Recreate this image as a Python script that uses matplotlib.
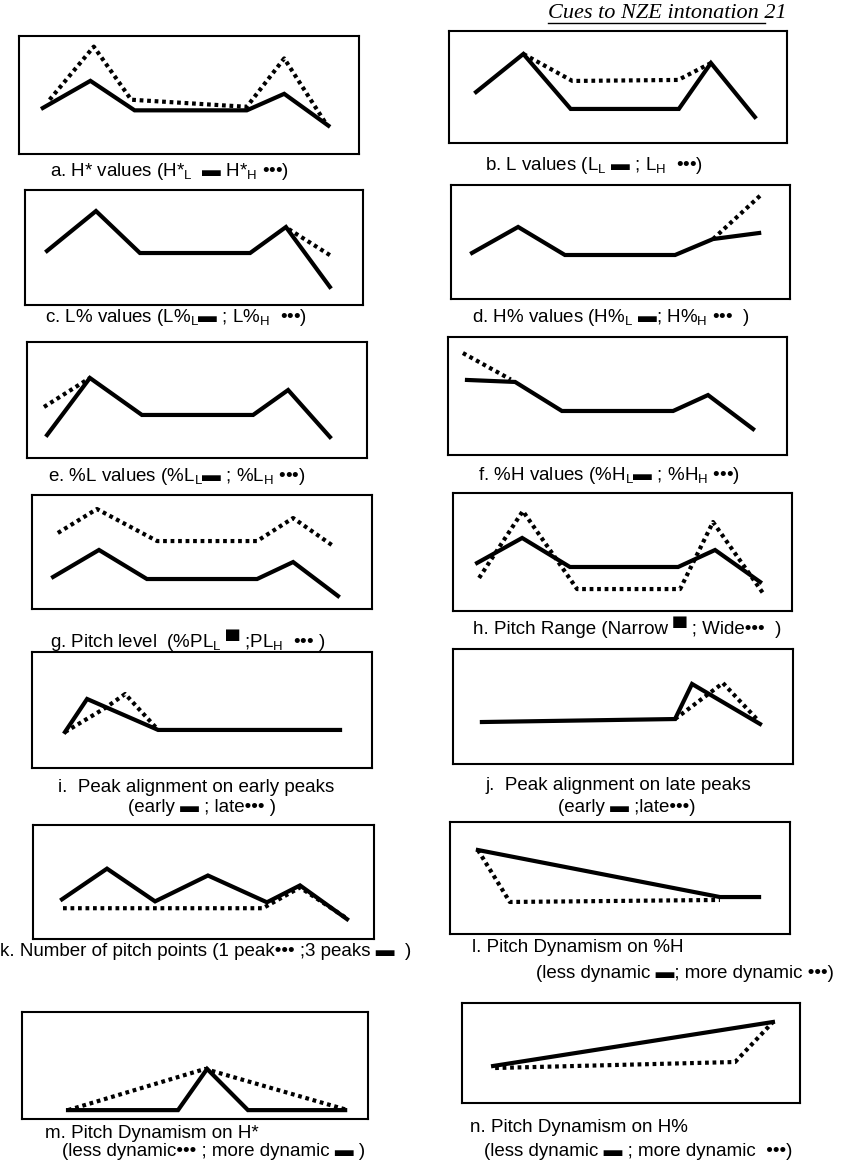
import matplotlib.pyplot as plt
from matplotlib.lines import Line2D

plt.rcParams['font.family'] = ['Liberation Sans', 'DejaVu Sans']
plt.rcParams['mathtext.fontset'] = 'custom'
plt.rcParams['mathtext.rm'] = 'Liberation Sans'

# Contours: x = % of the box width, y = % of the box height
a_solid_x = [7, 21, 34, 67, 78, 91]
a_solid_y = [39, 62, 37, 37, 51, 24]
a_dot_x = [9, 22, 33, 67, 78, 90]
a_dot_y = [46, 91, 46, 40, 81, 27]

b_solid_x = [8, 22, 36, 68, 77.5, 90.5]
b_solid_y = [45.5, 79.5, 30.4, 30.4, 71.4, 23.2]
b_dot_x = [22, 36.5, 67.8, 77.5]
b_dot_y = [79.5, 55.4, 56.3, 71.4]

c_solid_x = [6.5, 21, 34, 66.6, 77.2, 90.2]
c_solid_y = [47, 81.7, 45.2, 45.2, 67.8, 15.7]
c_dot_x = [78, 91.1]
c_dot_y = [66, 41.7]

d_solid_x = [6.2, 19.8, 33.6, 66.1, 77.3, 90.9]
d_solid_y = [40.4, 63.2, 38.6, 38.6, 52.6, 57.9]
d_dot_x = [77.3, 91.4]
d_dot_y = [52.6, 91.2]

e_solid_x = [5.9, 18.5, 33.8, 66.5, 76.8, 89.1]
e_solid_y = [19.8, 69, 37.1, 37.1, 58.6, 18.1]
e_dot_x = [5.0, 18.5]
e_dot_y = [44, 69]

f_solid_x = [5.6, 19.8, 33.6, 66.4, 76.7, 90]
f_solid_y = [63.6, 61.9, 37.3, 37.3, 50.8, 22]
f_dot_x = [4.4, 18.5]
f_dot_y = [86.4, 64]

g_solid_x = [6.2, 19.7, 33.8, 66.2, 76.8, 90]
g_solid_y = [28.1, 51.8, 26.3, 26.3, 41.2, 11.4]
g_dot_x = [7.6, 19.1, 36.8, 66.2, 76.8, 88.2]
g_dot_y = [66.7, 87.7, 59.6, 59.6, 79.8, 56.1]

h_solid_x = [7.1, 20.4, 34.5, 66.4, 77.3, 90.6]
h_solid_y = [40.7, 61.9, 37.3, 37.3, 51.7, 24.6]
h_dot_x = [7.7, 20.6, 36.6, 67, 76.7, 91.4]
h_dot_y = [28, 84.7, 18.6, 18.6, 75.4, 15.3]

i_solid_x = [9.7, 16.2, 37.1, 90.6]
i_solid_y = [31, 59.5, 32.8, 32.8]
i_dot_x = [9.7, 21.5, 27.4, 37.1]
i_dot_y = [31, 51.7, 63.8, 32.8]

j_solid_x = [8.5, 65.3, 70.3, 90.3]
j_solid_y = [36.5, 39.1, 69.6, 34.8]
j_dot_x = [65.3, 79.4, 89.7]
j_dot_y = [39.1, 70.4, 38]

k_solid_x = [8.5, 21.7, 35.8, 51.3, 68.6, 78.3, 92.1]
k_solid_y = [34.8, 61.7, 33, 55.7, 32.2, 47, 17.4]
k_dot_x = [8.8, 67.4, 78.3, 91.5]
k_dot_y = [27, 27, 45.2, 19.1]

l_solid_x = [8.2, 79.4, 90.9]
l_solid_y = [75, 33, 33]
l_dot_x = [8.2, 17.6, 79.4]
l_dot_y = [75, 28.6, 30.4]

m_solid_x = [13.3, 45.1, 53.5, 65.3, 93.4]
m_solid_y = [8.3, 8.3, 46.8, 8.3, 8.3]
m_dot_x = [13.3, 52.9, 93.4]
m_dot_y = [8.3, 46.8, 9]

n_solid_x = [9.2, 92]
n_solid_y = [37, 81]
n_dot_x = [9.8, 80.8, 92]
n_dot_y = [35, 41, 81]

L = r'$_\mathrm{L}$'
H = r'$_\mathrm{H}$'
BAR = '\u25ac'
DOTS = '\u2022\u2022\u2022'
captions = {
    'a': ['a. H* values (H*' + L + '  ' + BAR + ' H*' + H + ' ' + DOTS + ')'],
    'b': ['b. L values (L' + L + ' ' + BAR + ' ; L' + H + '  ' + DOTS + ')'],
    'c': ['c. L% values (L%' + L + BAR + ' ; L%' + H + '  ' + DOTS + ')'],
    'd': ['d. H% values (H%' + L + ' ' + BAR + '; H%' + H + ' ' + DOTS + '  )'],
    'e': ['e. %L values (%L' + L + BAR + ' ; %L' + H + ' ' + DOTS + ')'],
    'f': ['f. %H values (%H' + L + BAR + ' ; %H' + H + ' ' + DOTS + ')'],
    'g': ['g. Pitch level  (%PL' + L + ' \u2580 ;PL' + H + '  ' + DOTS + ' )'],
    'h': ['h. Pitch Range (Narrow \u2580 ; Wide' + DOTS + '  )'],
    'i': ['i.  Peak alignment on early peaks', '(early ' + BAR + ' ; late' + DOTS + ' )'],
    'j': ['j.  Peak alignment on late peaks', '(early ' + BAR + ' ;late' + DOTS + ')'],
    'k': ['k. Number of pitch points (1 peak' + DOTS + ' ;3 peaks ' + BAR + '  )'],
    'l': ['l. Pitch Dynamism on %H', '(less dynamic ' + BAR + '; more dynamic ' + DOTS + ')'],
    'm': ['m. Pitch Dynamism on H*', '(less dynamic' + DOTS + ' ; more dynamic ' + BAR + ' )'],
    'n': ['n. Pitch Dynamism on H%', '(less dynamic ' + BAR + ' ; more dynamic  ' + DOTS + ')'],
}

series = {
    'a': (a_solid_x, a_solid_y, a_dot_x, a_dot_y),
    'b': (b_solid_x, b_solid_y, b_dot_x, b_dot_y),
    'c': (c_solid_x, c_solid_y, c_dot_x, c_dot_y),
    'd': (d_solid_x, d_solid_y, d_dot_x, d_dot_y),
    'e': (e_solid_x, e_solid_y, e_dot_x, e_dot_y),
    'f': (f_solid_x, f_solid_y, f_dot_x, f_dot_y),
    'g': (g_solid_x, g_solid_y, g_dot_x, g_dot_y),
    'h': (h_solid_x, h_solid_y, h_dot_x, h_dot_y),
    'i': (i_solid_x, i_solid_y, i_dot_x, i_dot_y),
    'j': (j_solid_x, j_solid_y, j_dot_x, j_dot_y),
    'k': (k_solid_x, k_solid_y, k_dot_x, k_dot_y),
    'l': (l_solid_x, l_solid_y, l_dot_x, l_dot_y),
    'm': (m_solid_x, m_solid_y, m_dot_x, m_dot_y),
    'n': (n_solid_x, n_solid_y, n_dot_x, n_dot_y),
}

# layout in pixels: box (left, top, right, bottom), caption lines (x, y)
W, Hpx = 857, 1168
boxes = {
    'a': (19, 36, 359, 154), 'b': (449, 31, 787, 143),
    'c': (25, 190, 363, 305), 'd': (451, 185, 790, 299),
    'e': (27, 342, 367, 458), 'f': (448, 337, 787, 455),
    'g': (32, 495, 372, 609), 'h': (453, 493, 792, 611),
    'i': (32, 652, 372, 768), 'j': (453, 649, 793, 764),
    'k': (33, 825, 374, 939), 'l': (450, 822, 790, 934),
    'm': (22, 1012, 368, 1119), 'n': (462, 1003, 800, 1103),
}
cap_pos = {
    'a': [(50, 172)], 'b': [(485, 165)],
    'c': [(45, 317)], 'd': [(472, 317)],
    'e': [(48, 477)], 'f': [(478, 475)],
    'g': [(50, 640)], 'h': [(473, 627)],
    'i': [(58, 787), (128, 807)], 'j': [(485, 786), (558, 807)],
    'k': [(0, 952)], 'l': [(472, 948), (536, 973)],
    'm': [(45, 1134), (62, 1152)], 'n': [(470, 1127), (484, 1151)],
}

fig = plt.figure(figsize=(8.57, 11.68), dpi=100)

for key in boxes:
    x0, y0, x1, y1 = boxes[key]
    ax = fig.add_axes([x0 / W, 1 - y1 / Hpx, (x1 - x0) / W, (y1 - y0) / Hpx])
    sx, sy, dx, dy = series[key]
    ax.plot(dx, dy, color='black', lw=3.0, linestyle=(0, (0.9, 0.9)))
    ax.plot(sx, sy, color='black', lw=3.0, solid_joinstyle='miter')
    ax.set_xlim(0, 100)
    ax.set_ylim(0, 100)
    ax.set_xticks([])
    ax.set_yticks([])
    for sp in ax.spines.values():
        sp.set_linewidth(1.5)
    for (tx, ty), line in zip(cap_pos[key], captions[key]):
        fig.text(tx / W, 1 - ty / Hpx, line, fontsize=13.5, va='center', ha='left')

fig.text(548 / W, 1 - 13 / Hpx, 'Cues to NZE intonation 21', fontsize=16,
         family=['Liberation Serif', 'DejaVu Serif'], style='italic', va='center')
fig.add_artist(Line2D([548 / W, 765 / W], [1 - 23 / Hpx, 1 - 23 / Hpx],
                      color='black', lw=1.0))

fig.savefig('out.png', dpi=100)
